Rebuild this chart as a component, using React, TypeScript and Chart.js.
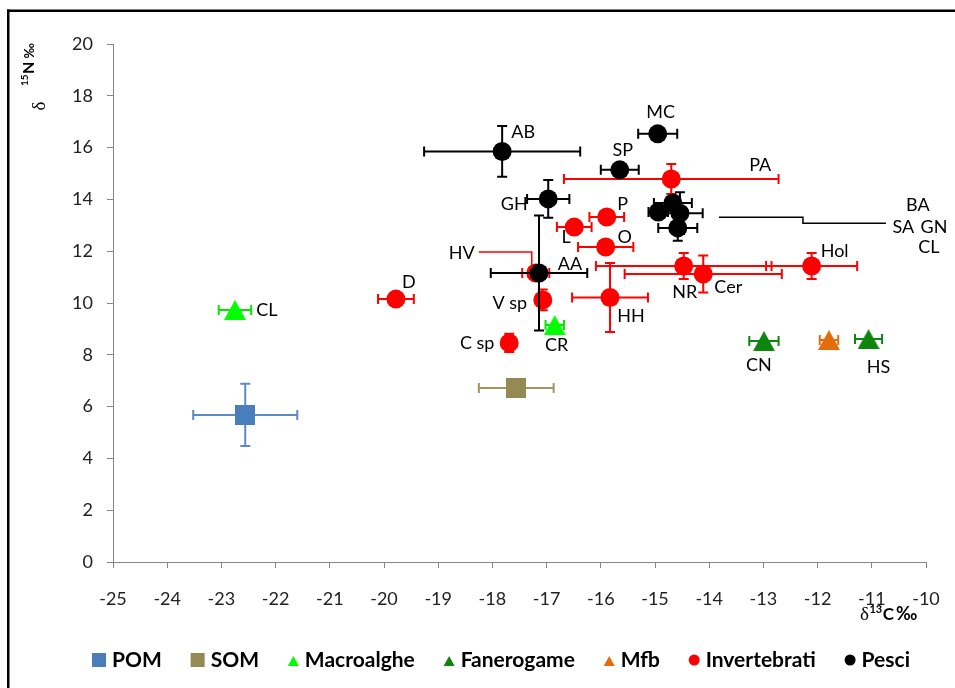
import React, { useEffect, useRef } from "react";
import { Chart, registerables } from "chart.js";
Chart.register(...registerables);

const FONT = "Lato, 'Open Sans', sans-serif";
const SERIF = "'Liberation Serif', 'DejaVu Serif', serif";

// ---------------- data ----------------
const xTickMin = -25;
const xTickMax = -10;
const yTickMin = 0;
const yTickMax = 20;

const pomNames = [""];
const pomX = [-22.56];
const pomY = [5.68];
const pomXErr = [0.96];
const pomYErr = [1.2];

const somNames = [""];
const somX = [-17.56];
const somY = [6.72];
const somXErr = [0.69];
const somYErr = [0];

const macroNames = ["CL", "CR"];
const macroX = [-22.75, -16.85];
const macroY = [9.73, 9.15];
const macroXErr = [0.3, 0.17];
const macroYErr = [0, 0];

const fanNames = ["CN", "HS"];
const fanX = [-12.99, -11.06];
const fanY = [8.53, 8.61];
const fanXErr = [0.27, 0.25];
const fanYErr = [0, 0];

const mfbNames = [""];
const mfbX = [-11.79];
const mfbY = [8.57];
const mfbXErr = [0.17];
const mfbYErr = [0];

const invNames = ["D", "L", "P", "O", "PA", "HV", "V sp", "C sp", "HH", "NR", "Cer", "Hol"];
const invX = [-19.78, -16.49, -15.89, -15.91, -14.7, -17.2, -17.07, -17.69, -15.83, -14.47, -14.11, -12.11];
const invY = [10.15, 12.93, 13.32, 12.16, 14.79, 11.16, 10.12, 8.46, 10.21, 11.43, 11.12, 11.43];
const invXErr = [0.33, 0.32, 0.32, 0.51, 1.98, 0.25, 0, 0, 0.7, 1.62, 1.45, 0.84];
const invYErr = [0, 0, 0, 0, 0.58, 0, 0.4, 0.35, 1.33, 0.5, 0.71, 0.5];

const fishNames = ["AB", "MC", "SP", "GH", "AA", "BA", "SA", "GN", "CL"];
const fishX = [-17.82, -14.95, -15.65, -16.97, -17.14, -14.67, -14.94, -14.54, -14.58];
const fishY = [15.85, 16.53, 15.14, 14.02, 11.16, 13.86, 13.51, 13.47, 12.9];
const fishXErr = [1.44, 0.36, 0.35, 0.39, 0.89, 0.35, 0.18, 0.42, 0.36];
const fishYErr = [0.98, 0, 0, 0.73, 2.22, 0, 0, 0.81, 0.5];

// ---------------- layout / style ----------------
type Shape = "square" | "triangle" | "circle";
interface Series {
  label: string;
  names: string[];
  x: number[];
  y: number[];
  xErr: number[];
  yErr: number[];
  color: string;
  errColor: string;
  shape: Shape;
}

const series: Series[] = [
  { label: "POM", names: pomNames, x: pomX, y: pomY, xErr: pomXErr, yErr: pomYErr, color: "#4A7EBB", errColor: "#5B8AC4", shape: "square" },
  { label: "SOM", names: somNames, x: somX, y: somY, xErr: somXErr, yErr: somYErr, color: "#948A54", errColor: "#A09660", shape: "square" },
  { label: "Macroalghe", names: macroNames, x: macroX, y: macroY, xErr: macroXErr, yErr: macroYErr, color: "#00FF00", errColor: "#00E800", shape: "triangle" },
  { label: "Fanerogame", names: fanNames, x: fanX, y: fanY, xErr: fanXErr, yErr: fanYErr, color: "#0E850E", errColor: "#0E850E", shape: "triangle" },
  { label: "Mfb", names: mfbNames, x: mfbX, y: mfbY, xErr: mfbXErr, yErr: mfbYErr, color: "#E46C0A", errColor: "#E46C0A", shape: "triangle" },
  { label: "Invertebrati", names: invNames, x: invX, y: invY, xErr: invXErr, yErr: invYErr, color: "#FF0000", errColor: "#FF0000", shape: "circle" },
  { label: "Pesci", names: fishNames, x: fishX, y: fishY, xErr: fishXErr, yErr: fishYErr, color: "#000000", errColor: "#000000", shape: "circle" },
];

// label offsets in px relative to the marker centre (text centre)
const labelOffsets: Record<string, [number, number]> = {
  "Macroalghe:CL": [32, 0],
  "Macroalghe:CR": [2, 20],
  "Fanerogame:CN": [-5, 24],
  "Fanerogame:HS": [10, 28],
  "Invertebrati:D": [13, -17],
  "Invertebrati:L": [-8, 10],
  "Invertebrati:P": [16, -13],
  "Invertebrati:O": [19, -10],
  "Invertebrati:PA": [89, -14],
  "Invertebrati:HV": [-74, -20],
  "Invertebrati:V sp": [-33, 3],
  "Invertebrati:C sp": [-32, 0],
  "Invertebrati:HH": [21, 19],
  "Invertebrati:NR": [1, 26],
  "Invertebrati:Cer": [25, 13],
  "Invertebrati:Hol": [23, -15],
  "Pesci:AB": [21, -19],
  "Pesci:MC": [3, -22],
  "Pesci:SP": [3, -20],
  "Pesci:GH": [-34, 5],
  "Pesci:AA": [31, -9],
  "Pesci:BA": [245, 2],
  "Pesci:SA": [245, 15],
  "Pesci:GN": [254, 14],
  "Pesci:CL": [251, 19],
};

const leaders: Record<string, [number, number][]> = {
  "Invertebrati:HV": [[-57, -21], [-4, -21], [-4, -5]],
  "Pesci:GN": [[39, 4], [123, 4], [123, 10], [206, 10]],
};

function makeTriangle(color: string): HTMLCanvasElement {
  const c = document.createElement("canvas");
  c.width = 22;
  c.height = 20;
  const g = c.getContext("2d")!;
  g.fillStyle = color;
  g.beginPath();
  g.moveTo(11, 0);
  g.lineTo(22, 20);
  g.lineTo(0, 20);
  g.closePath();
  g.fill();
  return c;
}

function makeSquare(color: string): HTMLCanvasElement {
  const c = document.createElement("canvas");
  c.width = 20;
  c.height = 20;
  const g = c.getContext("2d")!;
  g.fillStyle = color;
  g.fillRect(0, 0, 20, 20);
  return c;
}

const customPlugin = {
  id: "custom",
  beforeDatasetDraw(chart: any, args: any) {
    const s = series[args.index];
    if (!s) return;
    const ctx = chart.ctx as CanvasRenderingContext2D;
    const xs = chart.scales.x;
    const ys = chart.scales.y;
    ctx.save();
    ctx.strokeStyle = s.errColor;
    ctx.lineWidth = 2;
    const cap = 5;
    s.x.forEach((xv, i) => {
      const px = xs.getPixelForValue(xv);
      const py = ys.getPixelForValue(s.y[i]);
      const ex = s.xErr[i];
      const ey = s.yErr[i];
      ctx.beginPath();
      if (ex > 0) {
        const l = xs.getPixelForValue(xv - ex);
        const r = xs.getPixelForValue(xv + ex);
        ctx.moveTo(l, py); ctx.lineTo(r, py);
        ctx.moveTo(l, py - cap); ctx.lineTo(l, py + cap);
        ctx.moveTo(r, py - cap); ctx.lineTo(r, py + cap);
      }
      if (ey > 0) {
        const t = ys.getPixelForValue(s.y[i] + ey);
        const b = ys.getPixelForValue(s.y[i] - ey);
        ctx.moveTo(px, t); ctx.lineTo(px, b);
        ctx.moveTo(px - cap, t); ctx.lineTo(px + cap, t);
        ctx.moveTo(px - cap, b); ctx.lineTo(px + cap, b);
      }
      ctx.stroke();
    });
    ctx.restore();
  },
  afterDatasetsDraw(chart: any) {
    const ctx = chart.ctx as CanvasRenderingContext2D;
    const xs = chart.scales.x;
    const ys = chart.scales.y;
    ctx.save();
    ctx.font = `18px ${FONT}`;
    ctx.textAlign = "center";
    ctx.textBaseline = "middle";
    series.forEach((s) => {
      s.names.forEach((n, i) => {
        if (!n) return;
        const key = `${s.label}:${n}`;
        const px = xs.getPixelForValue(s.x[i]);
        const py = ys.getPixelForValue(s.y[i]);
        const lead = leaders[key];
        if (lead) {
          ctx.strokeStyle = s.color;
          ctx.lineWidth = 1.5;
          ctx.beginPath();
          lead.forEach(([dx, dy], k) => {
            if (k === 0) ctx.moveTo(px + dx, py + dy);
            else ctx.lineTo(px + dx, py + dy);
          });
          ctx.stroke();
        }
        const off = labelOffsets[key] || [0, -20];
        ctx.fillStyle = "#000";
        ctx.fillText(n, px + off[0], py + off[1]);
      });
    });
    ctx.restore();
  },
  afterDraw(chart: any) {
    const ctx = chart.ctx as CanvasRenderingContext2D;
    ctx.save();
    // outer frame (left + top)
    ctx.fillStyle = "#000";
    ctx.fillRect(7, 9.5, 960, 2.5);
    ctx.fillRect(7, 9.5, 2.5, 700);

    // y title (rotated)
    ctx.fillStyle = "#000";
    ctx.save();
    ctx.translate(34, 86);
    ctx.rotate(-Math.PI / 2);
    ctx.textBaseline = "alphabetic";
    ctx.textAlign = "left";
    let t = 0;
    ctx.font = `bold 10px ${FONT}`;
    ctx.fillText("15", t, -6);
    t += ctx.measureText("15").width + 0.5;
    ctx.font = `bold 16px ${FONT}`;
    ctx.fillText("N", t, 0);
    t += ctx.measureText("N").width + 3;
    ctx.font = `bold 13px ${FONT}`;
    ctx.fillText("‰", t, 0);
    ctx.restore();
    ctx.save();
    ctx.translate(45, 106);
    ctx.rotate(-Math.PI / 2);
    ctx.textAlign = "center";
    ctx.textBaseline = "alphabetic";
    ctx.font = `19px ${SERIF}`;
    ctx.fillText("δ", 0, 0);
    ctx.restore();

    // x title
    ctx.textAlign = "left";
    ctx.textBaseline = "alphabetic";
    let x = 860;
    ctx.font = `19px ${SERIF}`;
    ctx.fillText("δ", x, 620);
    x += ctx.measureText("δ").width + 0.5;
    ctx.font = `bold 11px ${FONT}`;
    ctx.fillText("13", x, 613);
    x += ctx.measureText("13").width + 0.5;
    ctx.font = `bold 17px ${FONT}`;
    ctx.fillText("C", x, 620);
    x += ctx.measureText("C").width + 2;
    ctx.font = `bold 18px ${FONT}`;
    ctx.fillText("‰", x, 620);

    // legend
    ctx.font = `bold 21px ${FONT}`;
    const mW: Record<Shape, number> = { square: 14, triangle: 11, circle: 11 };
    const inner = 6;
    const widths = series.map((s) => mW[s.shape] + inner + ctx.measureText(s.label).width);
    const start = 92;
    const end = 910;
    const sum = widths.reduce((a, b) => a + b, 0);
    const gap = (end - start - sum) / (series.length - 1);
    let lx = start;
    const base = 667;
    series.forEach((s, i) => {
      ctx.fillStyle = s.color;
      const m = mW[s.shape];
      if (s.shape === "square") {
        ctx.fillRect(lx, 653, 14, 14);
      } else if (s.shape === "triangle") {
        ctx.beginPath();
        ctx.moveTo(lx + m / 2, 656);
        ctx.lineTo(lx + m, 666);
        ctx.lineTo(lx, 666);
        ctx.closePath();
        ctx.fill();
      } else {
        ctx.beginPath();
        ctx.arc(lx + m / 2, 660, 5.5, 0, Math.PI * 2);
        ctx.fill();
      }
      ctx.fillStyle = "#000";
      ctx.fillText(s.label, lx + m + inner, base);
      lx += widths[i] + gap;
    });
    ctx.restore();
  },
};

export default function App() {
  const ref = useRef<HTMLCanvasElement>(null);
  useEffect(() => {
    if (!ref.current) return;
    const axisGray = "#868686";
    const tickFont = { family: FONT, size: 18 };
    const datasets = series.map((s, i) => {
      let style: any = "circle";
      let radius = 9.5;
      if (s.shape === "triangle") { style = makeTriangle(s.color); radius = 10; }
      if (s.shape === "square") { style = makeSquare(s.color); radius = 10; }
      return {
        label: s.label,
        data: s.x.map((v, k) => ({ x: v, y: s.y[k] })),
        pointStyle: style,
        pointRadius: radius,
        pointHoverRadius: radius,
        pointBorderWidth: 0,
        backgroundColor: s.color,
        borderColor: s.color,
        showLine: false,
        order: series.length - i,
      };
    });
    const chart = new Chart(ref.current, {
      type: "scatter",
      data: { datasets },
      options: {
        animation: false,
        responsive: false,
        maintainAspectRatio: false,
        events: [],
        layout: { padding: { left: 0, top: 44, right: 29, bottom: 76 } },
        plugins: { legend: { display: false }, tooltip: { enabled: false } },
        scales: {
          x: {
            type: "linear",
            min: xTickMin,
            max: xTickMax,
            ticks: { stepSize: 1, font: tickFont, color: "#222", padding: 20, maxRotation: 0 },
            grid: { drawOnChartArea: false, drawTicks: true, tickLength: 6, color: axisGray },
            border: { display: true, color: axisGray, width: 1 },
            afterFit: (s: any) => { s.height = 50; s.paddingLeft = 0; s.paddingRight = 0; },
          },
          y: {
            type: "linear",
            min: yTickMin,
            max: yTickMax,
            ticks: { stepSize: 2, font: tickFont, color: "#222", padding: 14 },
            grid: { drawOnChartArea: false, drawTicks: true, tickLength: 6, color: axisGray },
            border: { display: true, color: axisGray, width: 1 },
            afterFit: (s: any) => { s.width = 113; s.paddingTop = 0; s.paddingBottom = 0; },
          },
        },
      } as any,
      plugins: [customPlugin],
    });
    return () => chart.destroy();
  }, []);
  return (
    <div style={{ position: "fixed", left: 0, top: 0, width: 955, height: 688, background: "#fff" }}>
      <canvas ref={ref} width={955} height={688} style={{ display: "block", width: 955, height: 688 }} />
    </div>
  );
}
